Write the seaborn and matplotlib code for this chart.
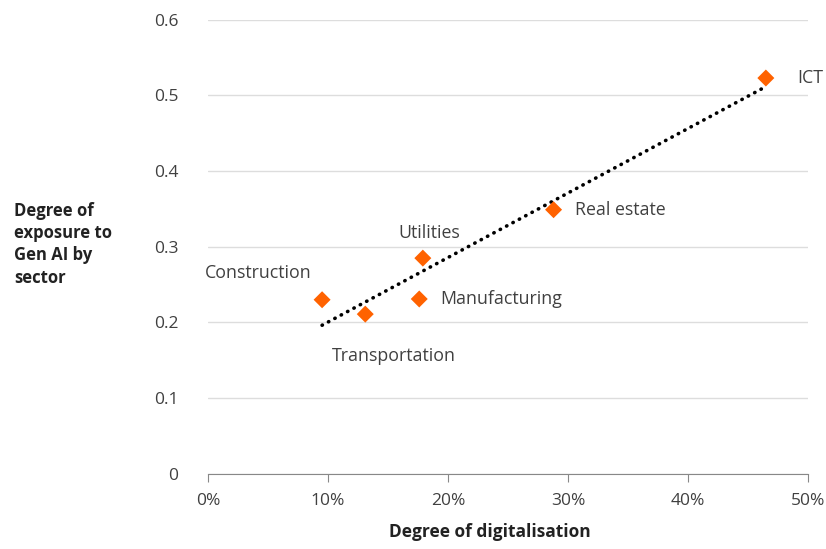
import pandas as pd
import matplotlib.pyplot as plt
import seaborn as sns
from matplotlib.ticker import FuncFormatter

sectors = ['ICT', 'Real estate', 'Utilities', 'Manufacturing', 'Construction', 'Transportation']
digitalisation = [46.5, 28.8, 17.9, 17.6, 9.5, 13.1]
exposure = [0.523, 0.349, 0.285, 0.231, 0.230, 0.211]
yTicks = [0, 0.1, 0.2, 0.3, 0.4, 0.5, 0.6]
xTicks = [0, 10, 20, 30, 40, 50]

# label placement relative to each point (pixels), and alignment
labelOffsets = {
    'ICT': (31, 0, 'left'),
    'Real estate': (21, 0, 'left'),
    'Utilities': (6, 25, 'center'),
    'Manufacturing': (21, 0, 'left'),
    'Construction': (-64, 27, 'center'),
    'Transportation': (29, -42, 'center'),
}

df = pd.DataFrame({'sector': sectors, 'x': digitalisation, 'y': exposure})

sns.set_style("white")
plt.rcParams['font.family'] = ['Open Sans', 'DejaVu Sans']
textColor = '#404040'
orange = '#FF6200'

fig = plt.figure(figsize=(8.26, 5.49), dpi=100)
ax = fig.add_axes([0.252, 0.137, 0.726, 0.827])

sns.regplot(data=df, x='x', y='y', scatter=False, ci=None, ax=ax,
            line_kws={'color': 'black', 'linestyle': (0, (0.1, 1.9)), 'linewidth': 2.6,
                      'dash_capstyle': 'round'})
sns.scatterplot(data=df, x='x', y='y', marker='D', s=75, color=orange, edgecolor='none', ax=ax, zorder=3)

for name, xv, yv in zip(sectors, digitalisation, exposure):
    dx, dy, ha = labelOffsets[name]
    ax.annotate(name, (xv, yv), xytext=(dx, dy), textcoords='offset pixels',
                ha=ha, va='center', fontsize=12.8, color=textColor)

ax.set_xlim(0, 50)
ax.set_ylim(0, 0.6)
ax.set_xticks(xTicks)
ax.set_yticks(yTicks)
ax.xaxis.set_major_formatter(FuncFormatter(lambda v, p: f'{int(v)}%'))
ax.yaxis.set_major_formatter(FuncFormatter(lambda v, p: '0' if v == 0 else f'{v:.1f}'))
ax.grid(axis='y', color='#dddddd', linewidth=1)
ax.set_axisbelow(True)
for s in ['top', 'right', 'left']:
    ax.spines[s].set_visible(False)
ax.spines['bottom'].set_color('#888888')
ax.tick_params(axis='x', bottom=True, direction='out', length=6, color='#888888',
               labelsize=12.5, labelcolor=textColor, pad=8)
ax.tick_params(axis='y', left=False, labelsize=12.5, labelcolor=textColor, pad=18)

ax.set_xlabel('')
ax.set_ylabel('')
fig.text(0.593, 0.022, 'Degree of digitalisation', fontsize=12.5, fontweight='bold',
         color='#222222', ha='center', va='baseline')
fig.text(0.017, 0.555, 'Degree of\nexposure to\nGen AI by\nsector', fontsize=12, fontweight='bold',
         color='#222222', ha='left', va='center', linespacing=1.3)

plt.savefig('out.png', dpi=100)
plt.close()
